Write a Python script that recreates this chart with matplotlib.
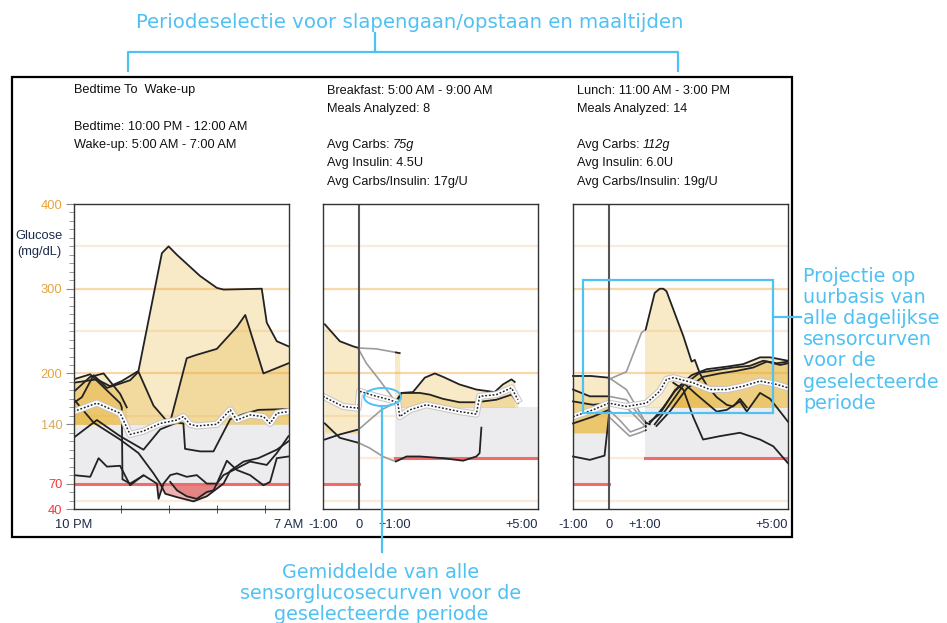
import numpy as np
import matplotlib
matplotlib.use("Agg")
import matplotlib.pyplot as plt
from matplotlib.patches import Rectangle, Ellipse
from matplotlib.ticker import MultipleLocator

# ------------------------------------------------------------------ data
# Panel 1: bedtime -> wake-up, hours after 10 PM
night_tick_pos = [0, 9]
night_tick_labels = ["10 PM", "7 AM"]
night_minor_ticks = [2, 4, 6, 8]

n1_h = [0, 0.98, 1.53, 2.02, 2.72, 3.70, 3.98, 4.33, 5.30, 6.00, 6.28, 7.88, 8.09, 8.51, 9.0]
n1_v = [189, 193, 185, 191, 203, 342, 350, 340, 315, 301, 299, 300, 260, 238, 232]
n2_h = [0, 0.70, 1.26, 1.95, 2.23]
n2_v = [178, 196, 200, 176, 160]
n3_h = [0, 0.35, 0.84, 1.40, 1.95, 2.37, 2.72, 3.35, 3.84, 4.05, 4.74, 5.16, 6.00, 6.84, 7.19, 7.95, 9.0]
n3_v = [165, 172, 198, 183, 188, 192, 202, 162, 146, 143, 218, 222, 229, 255, 269, 200, 212]
n4_h = [0, 0.98, 1.95, 2.93, 3.63, 4.33, 4.60, 4.67, 5.30, 5.86, 6.56, 7.12, 7.74, 9.0]
n4_v = [124, 145, 126, 110, 134, 142, 141, 111, 108, 108, 146, 152, 157, 158]
n5_h = [0, 0.84, 1.95, 2.72, 3.35, 3.63, 3.84, 4.33, 5.02, 5.58, 6.28, 6.56, 7.12, 7.74, 8.51, 9.0]
n5_v = [170, 142, 122, 106, 82, 70, 58, 54, 49, 55, 70, 85, 96, 100, 110, 120]
n6_h = [0, 0.70, 1.05, 1.40, 1.95, 2.37, 2.93, 3.49, 3.56, 3.77, 4.05, 4.33, 4.74, 5.16, 5.58,
        6.00, 6.42, 6.84, 7.39, 7.95, 8.23, 8.51, 9.0]
n6_v = [80, 78, 100, 90, 91, 68, 80, 70, 52, 70, 80, 82, 78, 80, 70,
        70, 97, 86, 80, 68, 72, 100, 102]
n7_h = [0, 0.70, 1.40, 1.95, 2.02, 2.05, 2.37, 2.90]
n7_v = [193, 199, 180, 165, 160, 75, 70, 79]
n8_h = [4.05, 4.33, 4.74, 5.16, 5.58, 5.86, 6.00, 6.28, 6.84, 7.39, 8.09, 8.51, 9.0]
n8_v = [72, 62, 55, 52, 60, 62, 70, 80, 88, 96, 92, 106, 126]
nm_h = [0, 0.98, 1.95, 2.37, 2.93, 3.63, 4.33, 4.60, 4.88, 5.16, 6.00, 6.56, 6.84, 7.39, 7.95, 8.23, 8.51, 9.0]
nm_v = [155, 165, 153, 128, 132, 141, 145, 149, 140, 138, 140, 157, 145, 151, 149, 141, 153, 155]

# Panels 2/3: hours relative to meal
meal_tick_pos = [-1, 0, 1, 5]
meal_tick_labels = ["-1:00", "0", "+1:00", "+5:00"]

# Breakfast
b1_h = [-0.95, -0.53, -0.16, 0.0, 0.49, 1.14]
b1_v = [258, 238, 232, 230, 229, 224]
b2_h = [0.0, 0.21, 0.58, 0.86, 1.05, 1.19, 1.51, 1.84, 2.12, 2.35, 2.81, 3.28, 3.79, 4.02, 4.26, 4.35]
b2_v = [228, 212, 192, 176, 165, 177, 178, 195, 200, 196, 187, 181, 178, 187, 193, 190]
b3_h = [-0.95, -0.53, 0.0, 0.30, 0.63, 1.0, 1.19, 1.70, 1.98, 2.35, 2.81, 3.28, 3.84, 4.26, 4.44]
b3_v = [122, 128, 134, 145, 157, 165, 177, 177, 175, 170, 166, 166, 169, 175, 165]
b4_h = [-0.95, -0.53, 0.0, 0.30, 0.67, 1.03, 1.33, 1.70, 2.35, 2.91, 3.28, 3.37, 3.42]
b4_v = [141, 124, 118, 112, 102, 96, 102, 102, 100, 97, 102, 106, 136]
bm_h = [-1.0, -0.44, -0.02, 0.02, 0.49, 0.86, 1.09, 1.14, 1.42, 1.88, 2.35, 2.81, 3.28, 3.37, 3.84, 4.26, 4.44]
bm_v = [173, 161, 159, 179, 173, 169, 165, 149, 157, 163, 159, 155, 152, 173, 175, 183, 169]

# Lunch
l1_h = [0.0, 0.49, 0.91, 1.03, 1.14, 1.28, 1.42, 1.52, 1.61, 1.84, 2.08, 2.31, 2.40, 2.54, 2.73,
        3.01, 3.29, 3.47, 3.66, 3.85]
l1_v = [193, 202, 248, 252, 271, 295, 300, 300, 297, 271, 244, 214, 216, 200, 186,
        172, 163, 161, 170, 160]
l2a_h = [1.14, 1.42, 1.84, 2.31, 2.73, 3.29, 3.75, 4.22, 4.50, 5.0]
l2a_v = [143, 152, 180, 198, 205, 208, 211, 219, 219, 215]
l2b_h = [1.28, 1.61, 2.08, 2.54, 3.01, 3.47, 3.94, 4.31, 4.69, 5.0]
l2b_v = [140, 158, 186, 201, 204, 207, 209, 215, 212, 214]
l2c_h = [1.33, 1.70, 2.17, 2.63, 3.10, 3.56, 4.03, 4.41, 4.78, 5.0]
l2c_v = [138, 155, 182, 196, 200, 203, 207, 214, 210, 212]
l3_h = [1.14, 1.52, 1.84, 2.08, 2.45, 2.73, 3.01, 3.29, 3.66, 3.85, 4.22, 4.50, 4.78, 5.0]
l3_v = [141, 160, 179, 189, 175, 165, 155, 157, 167, 155, 177, 170, 155, 143]
l4_h = [1.80, 2.08, 2.35, 2.63, 3.10, 3.66, 4.22, 4.59, 5.0]
l4_v = [189, 181, 149, 122, 126, 130, 122, 114, 94]
l5_h = [-1.0, -0.5, 0.0, 0.49, 1.03, 1.14]
l5_v = [197, 197, 195, 181, 142, 140]
l6_h = [-1.0, -0.53, 0.0, 0.49, 1.03]
l6_v = [181, 173, 173, 169, 141]
l7_h = [-1.0, -0.44, 0.0, 0.49, 1.03]
l7_v = [167, 163, 165, 160, 137]
l8_h = [-1.0, -0.44, 0.0, 0.30, 0.60, 0.86, 1.03]
l8_v = [141, 149, 157, 145, 131, 135, 138]
l9_h = [-1.0, -0.53, -0.12, 0.0, 0.30, 0.58, 0.86, 1.03]
l9_v = [102, 98, 103, 149, 137, 126, 130, 133]
lm_h = [-1.0, -0.44, 0.0, 0.49, 1.05, 1.42, 1.61, 1.80, 2.35, 2.82, 3.29, 3.75, 4.22, 4.69, 5.0]
lm_v = [149, 157, 165, 161, 165, 179, 193, 195, 189, 181, 181, 185, 191, 187, 183]

# y axis
y_ticks = [40, 70, 140, 200, 300, 400]
y_tick_colors = ["#ee3b3b", "#ee3b3b", "#d9a85e", "#e8a23a", "#e8a23a", "#e8a23a"]
grid_faint = [50, 100, 150, 250, 350]
grid_strong = [200, 300]

night_target = (70, 140)
pre_target = (70, 130)
post_target = (100, 160)

# header texts
night_header = ["Bedtime To  Wake-up", "", "Bedtime: 10:00 PM - 12:00 AM", "Wake-up: 5:00 AM - 7:00 AM"]
bf_header = ["Breakfast: 5:00 AM - 9:00 AM", "Meals Analyzed: 8", "", "Avg Carbs: ", "Avg Insulin: 4.5U",
             "Avg Carbs/Insulin: 17g/U"]
bf_carbs = "75g"
lu_header = ["Lunch: 11:00 AM - 3:00 PM", "Meals Analyzed: 14", "", "Avg Carbs: ", "Avg Insulin: 6.0U",
             "Avg Carbs/Insulin: 19g/U"]
lu_carbs = "112g"

top_note = "Periodeselectie voor slapengaan/opstaan en maaltijden"
right_note = ["Projectie op", "uurbasis van", "alle dagelijkse", "sensorcurven", "voor de",
              "geselecteerde", "periode"]
bottom_note = ["Gemiddelde van alle", "sensorglucosecurven voor de", "geselecteerde periode"]

# ------------------------------------------------------------------ style
W, H = 947, 623
BLUE = "#4fc1f3"
YEL = "#e6b237"
YA = 0.28
REDF = "#d84848"
RA = 0.42
TXT = "#1c2b4a"
plt.rcParams["font.family"] = ["Liberation Sans", "DejaVu Sans"]

fig = plt.figure(figsize=(W / 100, H / 100), dpi=100)
fig.patch.set_facecolor("white")


def px_axes(x0, y0, x1, y1):
    return fig.add_axes([x0 / W, 1 - y1 / H, (x1 - x0) / W, (y1 - y0) / H])


def clip_x(artist, ax, x0, x1):
    artist.set_clip_path(Rectangle((x0, -1e4), x1 - x0, 2e4, transform=ax.transData))


def add_fills(ax, h, v, hi, lo, x0, x1):
    h = np.asarray(h, float)
    v = np.asarray(v, float)
    f1 = ax.fill_between(h, hi, v, where=v > hi, interpolate=True, color=YEL, alpha=YA, lw=0, zorder=2)
    f2 = ax.fill_between(h, lo, v, where=v < lo, interpolate=True, color=REDF, alpha=RA, lw=0, zorder=2)
    clip_x(f1, ax, x0, x1)
    clip_x(f2, ax, x0, x1)


def base_axes(ax, xmin, xmax):
    ax.set_xlim(xmin, xmax)
    ax.set_ylim(40, 400)
    for g in grid_faint:
        ax.axhline(g, color="#fcebd8", lw=1.6, zorder=0.5)
    for g in grid_strong:
        ax.axhline(g, color="#f8d7a8", lw=1.6, zorder=0.5)
    for s in ax.spines.values():
        s.set_color("#333333")
        s.set_linewidth(1.0)
        s.set_zorder(8)


def mean_line(ax, h, v):
    ax.plot(h, v, color="#c4c4c4", lw=5.0, zorder=5, solid_joinstyle="round")
    ax.plot(h, v, color="white", lw=3.6, zorder=5, solid_joinstyle="round")
    ax.plot(h, v, color="#222222", lw=1.1, ls=(0, (1.2, 1.2)), zorder=6)


# ---------------- panel 1
ax1 = px_axes(73.5, 204, 288.5, 509)
base_axes(ax1, 0, 9)
ax1.fill_between([0, 9], night_target[0], night_target[1], color="#ececee", lw=0, zorder=1)
ax1.plot([0, 9], [night_target[0]] * 2, color="#f26a6a", lw=2.2, zorder=3)
night_curves = [(n1_h, n1_v), (n2_h, n2_v), (n3_h, n3_v), (n4_h, n4_v), (n5_h, n5_v),
                (n6_h, n6_v), (n7_h, n7_v), (n8_h, n8_v)]
for h, v in night_curves:
    add_fills(ax1, h, v, night_target[1], night_target[0], -1, 10)
    ax1.plot(h, v, color="#222222", lw=1.3, zorder=4)
mean_line(ax1, nm_h, nm_v)

ax1.set_yticks(y_ticks)
ax1.set_yticklabels([str(t) for t in y_ticks])
for lab, c in zip(ax1.get_yticklabels(), y_tick_colors):
    lab.set_color(c)
    lab.set_fontsize(9.3)
ax1.yaxis.set_minor_locator(MultipleLocator(10))
ax1.tick_params(axis="y", which="major", length=6, color="#888888", pad=2)
ax1.tick_params(axis="y", which="minor", length=3.5, color="#888888")
ax1.set_xticks(night_tick_pos)
ax1.set_xticklabels(night_tick_labels, fontsize=9.3, color=TXT)
ax1.set_xticks(night_minor_ticks, minor=True)
ax1.tick_params(axis="x", which="major", length=0, pad=7)
ax1.tick_params(axis="x", which="minor", length=6, direction="inout", color="#333333")

# ---------------- meal panels
def meal_panel(x0, curves, mh, mv):
    ax = px_axes(x0, 204, x0 + 215, 509)
    base_axes(ax, -1, 5)
    ax.fill_between([-1, 0], pre_target[0], pre_target[1], color="#ececee", lw=0, zorder=1)
    ax.fill_between([1, 5], post_target[0], post_target[1], color="#ececee", lw=0, zorder=1)
    ax.plot([-1, 0], [pre_target[0]] * 2, color="#f26a6a", lw=2.2, zorder=3)
    ax.plot([1, 5], [post_target[0]] * 2, color="#f26a6a", lw=2.2, zorder=3)
    for h, v in curves:
        add_fills(ax, h, v, pre_target[1], pre_target[0], -1, 0)
        add_fills(ax, h, v, post_target[1], post_target[0], 1, 5)
        l1, = ax.plot(h, v, color="#222222", lw=1.3, zorder=4)
        clip_x(l1, ax, -2, 0)
        l2, = ax.plot(h, v, color="#222222", lw=1.3, zorder=4)
        clip_x(l2, ax, 1, 6)
        l3, = ax.plot(h, v, color="#9c9c9c", lw=1.2, zorder=4)
        clip_x(l3, ax, 0, 1)
    mean_line(ax, mh, mv)
    ax.axvline(0, color="#555555", lw=1.5, zorder=7)
    ax.set_yticks([])
    ax.set_xticks(meal_tick_pos)
    ax.set_xticklabels(meal_tick_labels, fontsize=9.3, color=TXT)
    ax.get_xticklabels()[-1].set_ha("right")
    ax.tick_params(axis="x", length=0, pad=7)
    return ax


ax2 = meal_panel(323, [(b1_h, b1_v), (b2_h, b2_v), (b3_h, b3_v), (b4_h, b4_v)], bm_h, bm_v)
ax3 = meal_panel(573, [(l1_h, l1_v), (l2a_h, l2a_v), (l2b_h, l2b_v), (l2c_h, l2c_v), (l3_h, l3_v),
                       (l4_h, l4_v), (l5_h, l5_v), (l6_h, l6_v), (l7_h, l7_v), (l8_h, l8_v),
                       (l9_h, l9_v)], lm_h, lm_v)

# ---------------- overlay (texts, frame, annotations)
ov = fig.add_axes([0, 0, 1, 1], zorder=20)
ov.set_xlim(0, W)
ov.set_ylim(H, 0)
ov.axis("off")
ov.patch.set_alpha(0)

ov.add_patch(Rectangle((12, 77), 780, 460, fill=False, ec="black", lw=1.6, zorder=1))
ov.text(39, 244, "Glucose\n(mg/dL)", ha="center", va="center", fontsize=9.3, color=TXT, linespacing=1.45)

base_lines = [93.5, 111.7, 129.9, 148.1, 166.3, 184.5]


def header(x, lines, carbs=None):
    for i, s in enumerate(lines):
        if not s:
            continue
        t = ov.text(x, base_lines[i], s, fontsize=9.2, color="#111111", va="baseline")
        if carbs is not None and s.startswith("Avg Carbs: "):
            ov.annotate(carbs, xy=(1, 0), xycoords=t, va="bottom", ha="left", fontsize=9.2,
                        style="italic", color="#111111")


header(74, night_header)
header(327, bf_header, bf_carbs)
header(577, lu_header, lu_carbs)

# top bracket annotation
ov.text(410, 28, top_note, ha="center", va="baseline", fontsize=14.2, color=BLUE, family="DejaVu Sans")
ov.plot([128, 128, 678, 678], [72, 52, 52, 72], color=BLUE, lw=1.6, solid_capstyle="butt")
ov.plot([375, 375], [52, 33], color=BLUE, lw=1.6)

# right annotation
ov.add_patch(Rectangle((583, 280), 190, 133, fill=False, ec=BLUE, lw=1.6))
ov.plot([773, 801], [317, 317], color=BLUE, lw=1.6)
for i, s in enumerate(right_note):
    ov.text(803, 282 + 21.1 * i, s, ha="left", va="baseline", fontsize=13.8, color=BLUE,
            family="DejaVu Sans")

# bottom annotation
ov.add_patch(Ellipse((382.5, 397), 37, 18, fill=False, ec=BLUE, lw=1.4))
ov.plot([382, 382], [406, 552], color=BLUE, lw=1.6)
for i, s in enumerate(bottom_note):
    ov.text(381, 578 + 21.2 * i, s, ha="center", va="baseline", fontsize=13.8, color=BLUE,
            family="DejaVu Sans")

fig.savefig("out.png", dpi=100, facecolor="white")
